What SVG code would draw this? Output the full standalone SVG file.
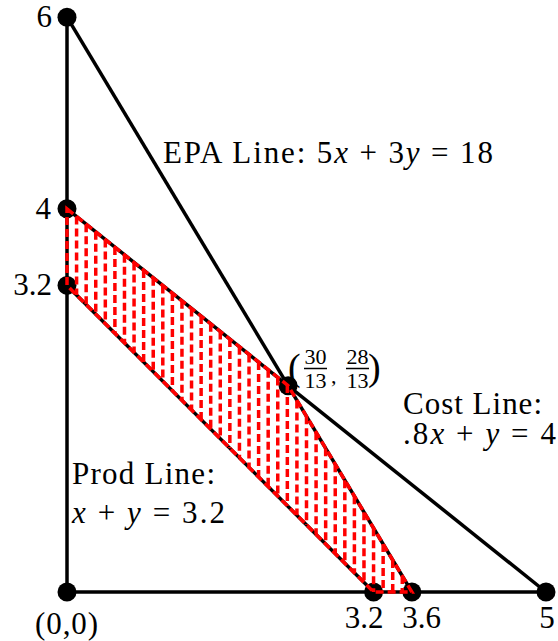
<svg xmlns="http://www.w3.org/2000/svg" width="558" height="641" viewBox="0 0 558 641">
<style>
.ax{stroke:#000;stroke-width:3.5;fill:none;stroke-linecap:round}
.ln{stroke:#000;stroke-width:3.5;fill:none}
.dot{fill:#000}
.red{stroke:#ff0000;stroke-width:3.5;fill:none;stroke-dasharray:8 4}
.it{font-style:italic}
.bar{stroke:#000;stroke-width:1.5}
</style>
<rect width="558" height="641" fill="#fff"/>
<g id="connectors">
<line class="ax" x1="67" y1="17" x2="67" y2="592"/>
<line class="ax" x1="67" y1="592" x2="546" y2="592"/>
<line id="epa-line" class="ln" x1="67" y1="17.2" x2="411.9" y2="592"/>
<line id="cost-line" class="ln" x1="67" y1="208.8" x2="546" y2="592"/>
<line id="prod-line" class="ln" x1="67" y1="285.4" x2="373.6" y2="592"/>
</g>
<g id="points">
<circle id="p-0-6" class="dot" cx="67" cy="17.2" r="9.5"/>
<circle id="p-0-4" class="dot" cx="67" cy="208.8" r="9.5"/>
<circle id="p-0-32" class="dot" cx="67" cy="285.4" r="9.5"/>
<circle id="p-0-0" class="dot" cx="67" cy="592" r="9.5"/>
<circle id="p-32-0" class="dot" cx="373.6" cy="592" r="9.5"/>
<circle id="p-36-0" class="dot" cx="411.9" cy="592" r="9.5"/>
<circle id="p-5-0" class="dot" cx="546" cy="592" r="9.5"/>
<circle id="p-int" class="dot" cx="288.1" cy="385.7" r="9.5"/>
</g>
<g id="feasible-region">
<path class="red" d="M67 208.8L288.1 385.7L411.9 592L373.6 592L67 285.4Z"/>
<path class="red" d="M76.58 216.46V295.02M86.16 224.13V304.6M95.74 231.79V314.18M105.32 239.46V323.76M114.9 247.12V333.34M124.48 254.78V342.92M134.06 262.45V352.5M143.64 270.11V362.08M153.22 277.78V371.66M162.8 285.44V381.24M172.38 293.1V390.82M181.96 300.77V400.4M191.54 308.43V409.98M201.12 316.1V419.56M210.7 323.76V429.14M220.28 331.42V438.72M229.86 339.09V448.3M239.44 346.75V457.88M249.02 354.42V467.46M258.6 362.08V477.04M268.18 369.74V486.62M277.76 377.41V496.2M287.34 385.07V505.78M296.92 400.4V515.36M306.5 416.37V524.94M316.08 432.34V534.52M325.66 448.31V544.1M335.24 464.28V553.68M344.82 480.24V563.26M354.4 496.21V572.84M363.98 512.18V582.42M373.56 528.14V592M383.14 544.11V592M392.72 560.08V592M402.3 576.04V592"/>
</g>
<g font-family="Liberation Serif, Times New Roman, serif" font-size="31" fill="#000">
<g id="axis-labels">
<text x="52" y="27" text-anchor="end">6</text>
<text x="51" y="219" text-anchor="end">4</text>
<text x="52" y="295" text-anchor="end">3.2</text>
<text x="35" y="634" textLength="63">(0,0)</text>
<text x="364" y="628" text-anchor="middle">3.2</text>
<text x="421.5" y="628" text-anchor="middle">3.6</text>
<text x="547" y="628" text-anchor="middle">5</text>
</g>
<g id="label-epa">
<text x="163" y="163" textLength="330">EPA Line: 5<tspan class="it">x</tspan> + 3<tspan class="it">y</tspan> = 18</text>
</g>
<g id="label-cost">
<text x="403" y="414" textLength="139">Cost Line:</text>
<text x="403" y="444" textLength="153">.8<tspan class="it">x</tspan> + <tspan class="it">y</tspan> = 4</text>
</g>
<g id="label-prod">
<text x="72" y="484" textLength="143">Prod Line:</text>
<text x="72" y="523" textLength="153"><tspan class="it">x</tspan> + <tspan class="it">y</tspan> = 3.2</text>
</g>
<g id="label-intersection">
<text x="288" y="380" font-size="38">(</text>
<text x="315.5" y="364" font-size="22" text-anchor="middle">30</text>
<line class="bar" x1="304" y1="368.5" x2="327" y2="368.5"/>
<text x="315.5" y="388" font-size="22" text-anchor="middle">13</text>
<text x="331" y="383" font-size="22">,</text>
<text x="357.5" y="364" font-size="22" text-anchor="middle">28</text>
<line class="bar" x1="346" y1="368.5" x2="369" y2="368.5"/>
<text x="357.5" y="388" font-size="22" text-anchor="middle">13</text>
<text x="368" y="380" font-size="38">)</text>
</g>
</g>
</svg>
